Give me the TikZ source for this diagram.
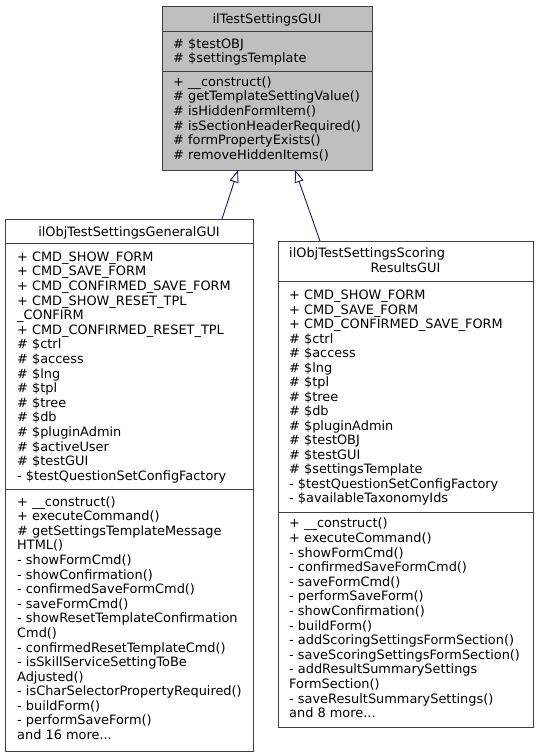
\documentclass[tikz,border=0pt]{standalone}
\usepackage{fontspec}
\setmainfont{DejaVu Sans}
\usetikzlibrary{arrows.meta}
\definecolor{edgeblue}{HTML}{191970}
\definecolor{boxline}{HTML}{404040}
\definecolor{rootfill}{HTML}{BFBFBF}
\newcommand{\moredots}{.{}.{}.}
\tikzset{
  classbox/.style={draw=boxline, line width=0.9pt, inner sep=0pt, outer sep=0pt},
  divider/.style={draw=boxline, line width=0.9pt},
  txt/.style={anchor=base west, inner sep=0pt, font=\fontsize{12.9}{14.6}\selectfont},
  ctxt/.style={anchor=base, inner sep=0pt, font=\fontsize{12.9}{14.6}\selectfont},
  inherit/.style={draw=edgeblue, line width=0.9pt, -{Triangle[open, length=12.5pt, width=9pt]}},
}
\begin{document}
\begin{tikzpicture}[x=1pt, y=-1pt]
\useasboundingbox (0,0) rectangle (538,756);
\fill[white] (0,0) rectangle (538,756);

% ---------- base class ----------
\node[classbox, fill=rootfill, minimum width=210pt, minimum height=164pt] (base) at (267,88) {};
\draw[divider] (base.west |- 0,31) -- (base.east |- 0,31);
\draw[divider] (base.west |- 0,71) -- (base.east |- 0,71);
\node[ctxt] (basetitle) at (267,23) {ilTestSettingsGUI};
\foreach \t [count=\i from 0] in {\# \$testOBJ, \# \$settingsTemplate}
  \node[txt] (ba\i) at (173,{48+\i*14.5}) {\t};
\foreach \t [count=\i from 0] in {+ \_\_construct(), \# getTemplateSettingValue(), \# isHiddenFormItem(), \# isSectionHeaderRequired(), \# formPropertyExists(), \# removeHiddenItems()}
  \node[txt] (bm\i) at (173,{86.3+\i*14.65}) {\t};

% ---------- general GUI ----------
\node[classbox, fill=white, minimum width=248pt, minimum height=532pt] (gen) at (129,485) {};
\draw[divider] (gen.west |- 0,243) -- (gen.east |- 0,243);
\draw[divider] (gen.west |- 0,489) -- (gen.east |- 0,489);
\node[ctxt] (gentitle) at (129,236) {ilObjTestSettingsGeneralGUI};
\foreach \t [count=\i from 0] in {+ CMD\_SHOW\_FORM, + CMD\_SAVE\_FORM, + CMD\_CONFIRMED\_SAVE\_FORM, + CMD\_SHOW\_RESET\_TPL, \_CONFIRM, + CMD\_CONFIRMED\_RESET\_TPL, \# \$ctrl, \# \$access, \# \$lng, \# \$tpl, \# \$tree, \# \$db, \# \$pluginAdmin, \# \$activeUser, \# \$testGUI, - \$testQuestionSetConfigFactory}
  \node[txt] (ga\i) at (17,{261.2+\i*14.6}) {\t};
\foreach \t [count=\i from 0] in {+ \_\_construct(), + executeCommand(), \# getSettingsTemplateMessage, HTML(), - showFormCmd(), - showConfirmation(), - confirmedSaveFormCmd(), - saveFormCmd(), - showResetTemplateConfirmation, Cmd(), - confirmedResetTemplateCmd(), - isSkillServiceSettingToBe, Adjusted(), - isCharSelectorPropertyRequired(), - buildForm(), - performSaveForm(), and 16 more\moredots}
  \node[txt] (gm\i) at (17,{506.2+\i*14.58}) {\t};

% ---------- scoring results GUI ----------
\node[classbox, fill=white, minimum width=255pt, minimum height=486pt] (sco) at (405.5,484) {};
\draw[divider] (sco.west |- 0,281) -- (sco.east |- 0,281);
\draw[divider] (sco.west |- 0,512) -- (sco.east |- 0,512);
\node[txt] (scotitlea) at (289,257.8) {ilObjTestSettingsScoring};
\node[ctxt] (scotitleb) at (405.5,272.8) {ResultsGUI};
\foreach \t [count=\i from 0] in {+ CMD\_SHOW\_FORM, + CMD\_SAVE\_FORM, + CMD\_CONFIRMED\_SAVE\_FORM, \# \$ctrl, \# \$access, \# \$lng, \# \$tpl, \# \$tree, \# \$db, \# \$pluginAdmin, \# \$testOBJ, \# \$testGUI, \# \$settingsTemplate, - \$testQuestionSetConfigFactory, - \$availableTaxonomyIds}
  \node[txt] (sa\i) at (289,{299.5+\i*14.5}) {\t};
\foreach \t [count=\i from 0] in {+ \_\_construct(), + executeCommand(), - showFormCmd(), - confirmedSaveFormCmd(), - saveFormCmd(), - performSaveForm(), - showConfirmation(), - buildForm(), - addScoringSettingsFormSection(), - saveScoringSettingsFormSection(), - addResultSummarySettings, FormSection(), - saveResultSummarySettings(), and 8 more\moredots}
  \node[txt] (sm\i) at (289,{527.8+\i*14.6}) {\t};

% ---------- inheritance ----------
\draw[inherit] (gen.north -| 222,0) -- (base.south -| 238,0);
\draw[inherit] (sco.north -| 320,0) -- (base.south -| 295,0);
\end{tikzpicture}
\end{document}
